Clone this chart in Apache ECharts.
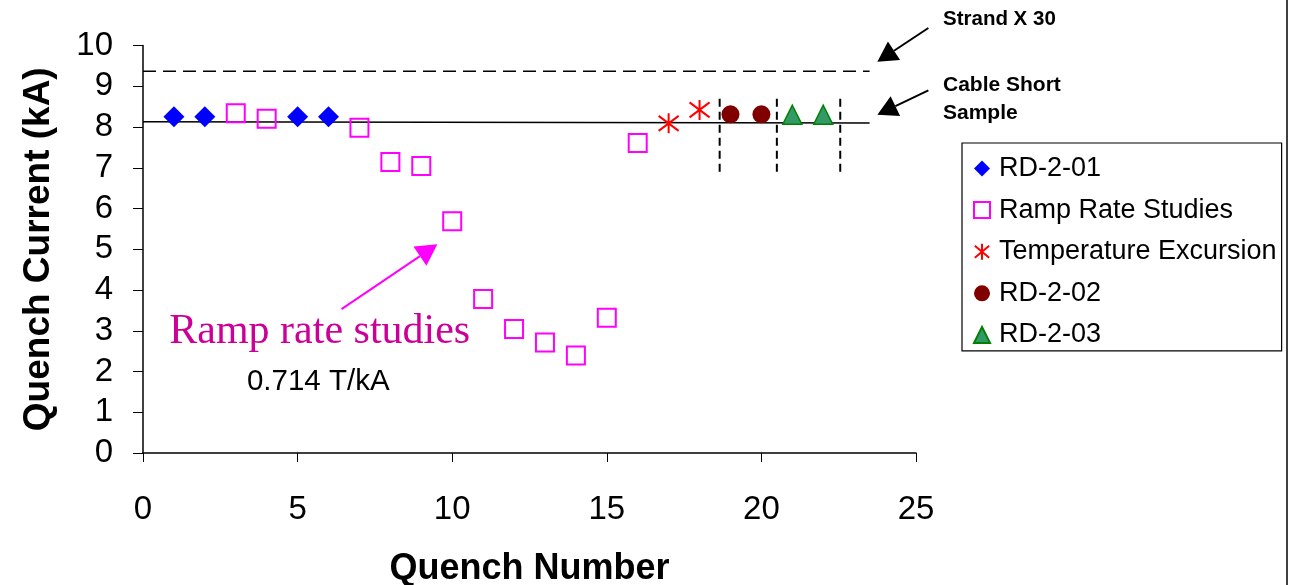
<!DOCTYPE html>
<html>
<head>
<meta charset="utf-8">
<script src="https://cdn.jsdelivr.net/npm/echarts@6/dist/echarts.min.js"></script>
<style>
html,body{margin:0;padding:0;background:#fff;}
#c{width:1294px;height:585px;}
</style>
</head>
<body>
<div id="c"></div>
<script>
// ---- data ----
const rd201X = [1, 2, 5, 6];
const rd201Y = [8.25, 8.25, 8.25, 8.25];
const rampX = [3, 4, 7, 8, 9, 10, 11, 12, 13, 14, 15, 16];
const rampY = [8.34, 8.2, 7.98, 7.14, 7.04, 5.69, 3.78, 3.04, 2.71, 2.39, 3.32, 7.61];
const tempX = [17, 18];
const tempY = [8.09, 8.42];
const rd202X = [19, 20];
const rd202Y = [8.31, 8.31];
const rd203X = [21, 22];
const rd203Y = [8.3, 8.3];
const cableLineX = [0, 23.5];
const cableLineY = [8.13, 8.1];
const strandLineX = [0, 23.5];
const strandLineY = [9.37, 9.37];
const dividerX = [18.65, 20.5, 22.55];
const dividerYRange = [6.9, 8.7];
const xTicks = [0, 5, 10, 15, 20, 25];
const yTicks = [0, 1, 2, 3, 4, 5, 6, 7, 8, 9, 10];
const seriesNames = ['RD-2-01', 'Ramp Rate Studies', 'Temperature Excursion', 'RD-2-02', 'RD-2-03'];

const zip = (xs, ys) => xs.map((x, i) => [x, ys[i]]);
const FONT = 'Liberation Sans, Arial, sans-serif';
const starPath = 'path://M10,0L10,20M1,2.5L19,17.5M19,2.5L1,17.5';
const rectPath = 'path://M0,0L10,0L10,10L0,10Z';
const diamondPath = 'path://M5,0L10,5L5,10L0,5Z';
const trianglePath = 'path://M5,0L10,10L0,10Z';

const chart = echarts.init(document.getElementById('c'), null, {renderer: 'canvas'});

const lineSeries = [
  {type: 'line', data: zip(cableLineX, cableLineY), symbol: 'none', silent: true,
   lineStyle: {color: '#000', width: 1.5}, z: 1},
  {type: 'line', data: zip(strandLineX, strandLineY), symbol: 'none', silent: true,
   lineStyle: {color: '#000', width: 1.5, type: [13, 7]}, z: 1}
].concat(dividerX.map(x => ({
  type: 'line', data: [[x, dividerYRange[0]], [x, dividerYRange[1]]], symbol: 'none', silent: true,
  lineStyle: {color: '#000', width: 2, type: [8, 5]}, z: 1
})));

const option = {
  animation: false,
  backgroundColor: '#fff',
  grid: {left: 143, right: 378, top: 45.5, bottom: 132, containLabel: false, outerBoundsMode: 'none'},
  xAxis: {
    type: 'value', min: 0, max: 25, interval: 5,
    name: 'Quench Number', nameLocation: 'middle', nameGap: 98,
    nameTextStyle: {fontFamily: FONT, fontSize: 36, fontWeight: 'bold', color: '#000'},
    axisLine: {onZero: false, lineStyle: {color: '#000', width: 1.5}},
    axisTick: {show: true, length: 9, lineStyle: {color: '#000'}},
    axisLabel: {fontFamily: FONT, fontSize: 33, color: '#000', margin: 40,
      formatter: v => xTicks.includes(v) ? String(v) : ''},
    splitLine: {show: false}
  },
  yAxis: {
    type: 'value', min: 0, max: 10, interval: 1,
    name: 'Quench Current (kA)', nameLocation: 'middle', nameGap: 86, nameRotate: 90,
    nameTextStyle: {fontFamily: FONT, fontSize: 37, fontWeight: 'bold', color: '#000'},
    axisLine: {show: true, onZero: false, lineStyle: {color: '#000', width: 1.5}},
    axisTick: {show: true, length: 10, lineStyle: {color: '#000'}},
    axisLabel: {fontFamily: FONT, fontSize: 33, color: '#000', margin: 30,
      formatter: v => yTicks.includes(v) ? String(v) : ''},
    splitLine: {show: false}
  },
  legend: {
    orient: 'vertical', left: 962, top: 143,
    data: [
      {name: seriesNames[0], icon: diamondPath},
      {name: seriesNames[1], icon: rectPath},
      {name: seriesNames[2], icon: starPath},
      {name: seriesNames[3], icon: 'circle'},
      {name: seriesNames[4], icon: trianglePath}
    ],
    symbolKeepAspect: true,
    backgroundColor: '#fff',
    borderColor: '#000', borderWidth: 1.2,
    padding: [10.5, 5, 1, 11],
    itemWidth: 24, itemHeight: 16, itemGap: 11.6,
    textStyle: {fontFamily: FONT, fontSize: 27, color: '#000', lineHeight: 30},
    selectedMode: false
  },
  series: lineSeries.concat([
    {name: seriesNames[0], type: 'scatter', data: zip(rd201X, rd201Y), symbol: 'diamond', symbolSize: 21,
     itemStyle: {color: '#0000FF', opacity: 1}, z: 3},
    {name: seriesNames[1], type: 'scatter', data: zip(rampX, rampY), symbol: 'rect', symbolSize: 18,
     itemStyle: {color: 'rgba(255,255,255,0)', borderColor: '#FF00FF', borderWidth: 2, opacity: 1}, z: 3},
    {name: seriesNames[2], type: 'scatter', data: zip(tempX, tempY), symbol: starPath, symbolSize: 20,
     itemStyle: {color: 'rgba(255,0,0,0)', borderColor: '#FF0000', borderWidth: 2, opacity: 1}, z: 3},
    {name: seriesNames[3], type: 'scatter', data: zip(rd202X, rd202Y), symbol: 'circle', symbolSize: 18,
     itemStyle: {color: '#800000', opacity: 1}, z: 3},
    {name: seriesNames[4], type: 'scatter', data: zip(rd203X, rd203Y), symbol: 'triangle', symbolSize: 19,
     itemStyle: {color: '#339966', borderColor: '#008000', borderWidth: 1.5, opacity: 1}, z: 3}
  ])
};
chart.setOption(option);

// ---- annotations anchored in data coordinates ----
const rampLabelPos = [0.85, 2.81];
const rampSubLabelPos = [3.36, 1.75];
const rampArrowFrom = [6.42, 3.53];
const rampArrowTo = [9.52, 5.12];
const strandArrowFrom = [25.4, 10.43];
const strandArrowTo = [23.75, 9.6];
const cableArrowFrom = [25.4, 8.9];
const cableArrowTo = [23.75, 8.3];

function px(p) { return chart.convertToPixel({gridIndex: 0}, p); }

function arrow(from, to, color, head, width) {
  const a = px(from), b = px(to);
  const ang = Math.atan2(b[1] - a[1], b[0] - a[0]);
  const hw = head * 0.55;
  const bx = b[0] - head * Math.cos(ang), by = b[1] - head * Math.sin(ang);
  const p1 = [bx + hw * Math.sin(ang), by - hw * Math.cos(ang)];
  const p2 = [bx - hw * Math.sin(ang), by + hw * Math.cos(ang)];
  return [
    {type: 'line', shape: {x1: a[0], y1: a[1], x2: bx, y2: by}, style: {stroke: color, lineWidth: width}},
    {type: 'polygon', shape: {points: [b, p1, p2]}, style: {fill: color}}
  ];
}

const rl = px(rampLabelPos), rs = px(rampSubLabelPos);
const graphics = [
  {type: 'text', left: rl[0], top: rl[1] - 28,
   style: {text: 'Ramp rate studies', font: '42px "Liberation Serif", "Times New Roman", serif', fill: '#CC0099'}},
  {type: 'text', x: rs[0], y: rs[1],
   style: {text: '0.714 T/kA', font: '29.5px ' + FONT, fill: '#000', align: 'left', verticalAlign: 'middle'}},
  {type: 'text', x: 943, y: 19,
   style: {text: 'Strand X 30', font: 'bold 20.5px ' + FONT, fill: '#000', verticalAlign: 'middle'}},
  {type: 'text', x: 943, y: 85,
   style: {text: 'Cable Short', font: 'bold 21px ' + FONT, fill: '#000', verticalAlign: 'middle'}},
  {type: 'text', x: 943, y: 113,
   style: {text: 'Sample', font: 'bold 21px ' + FONT, fill: '#000', verticalAlign: 'middle'}},
  {type: 'line', shape: {x1: 1287, y1: 0, x2: 1287, y2: 585}, style: {stroke: '#000', lineWidth: 1.5}}
].concat(arrow(rampArrowFrom, rampArrowTo, '#FF00FF', 21, 2))
 .concat(arrow(strandArrowFrom, strandArrowTo, '#000', 20, 2))
 .concat(arrow(cableArrowFrom, cableArrowTo, '#000', 20, 2));

chart.setOption({graphic: graphics});
</script>
</body>
</html>
